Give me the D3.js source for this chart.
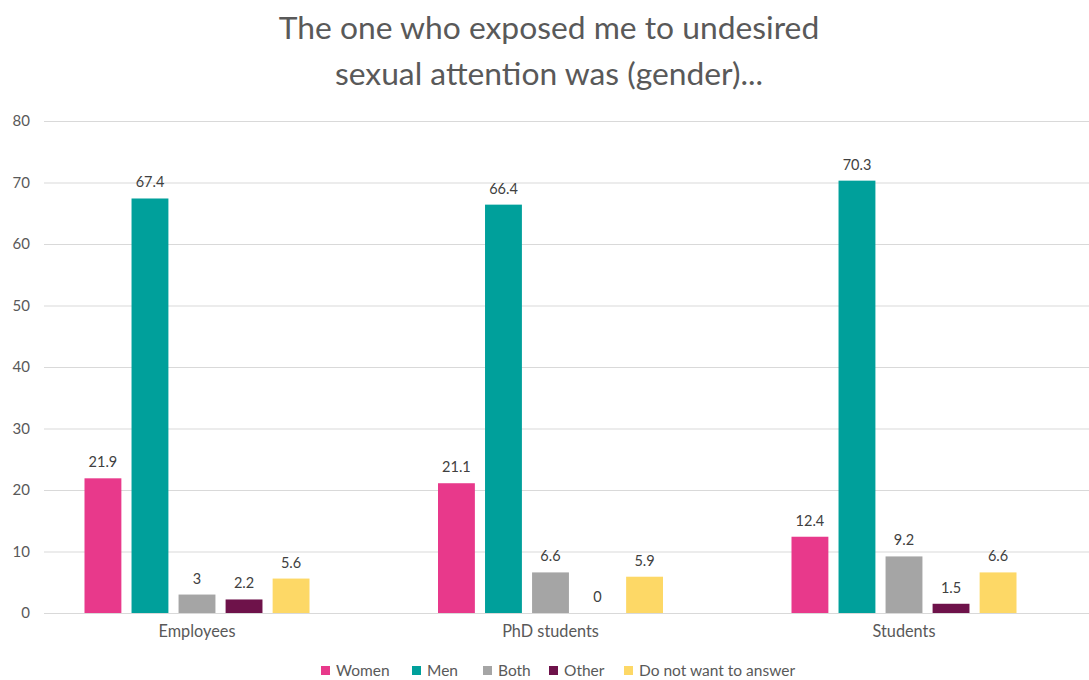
<!DOCTYPE html>
<html>
<head>
<meta charset="utf-8">
<script src="https://cdn.jsdelivr.net/npm/d3@7"></script>
<style>
  html, body { margin: 0; padding: 0; background: #fff; }
  svg { display: block; font-family: Lato, "Open Sans", sans-serif; }
</style>
</head>
<body>
<svg id="chart" width="1089" height="680"></svg>
<script>
const titleLines = ["The one who exposed me to undesired", "sexual attention was (gender)..."];
const categories = ["Employees", "PhD students", "Students"];
const seriesNames = ["Women", "Men", "Both", "Other", "Do not want to answer"];
const seriesColors = ["#E8398B", "#00A09B", "#A5A5A5", "#6E124A", "#FDD866"];
const women = [21.9, 21.1, 12.4];
const men = [67.4, 66.4, 70.3];
const both = [3, 6.6, 9.2];
const other = [2.2, 0, 1.5];
const noAnswer = [5.6, 5.9, 6.6];
const yTicks = [0, 10, 20, 30, 40, 50, 60, 70, 80];

const seriesValues = [women, men, both, other, noAnswer];

const svg = d3.select("#chart");

const y = d3.scaleLinear().domain([0, 80]).range([613, 121]);
const x0 = d3.scaleBand().domain(categories).range([20.25, 1080.75])
  .paddingInner(0.3635).paddingOuter(0.3635 / 2);
const x1 = d3.scaleBand().domain(seriesNames).range([0, x0.bandwidth()])
  .paddingInner(0.216).paddingOuter(0);
const color = d3.scaleOrdinal().domain(seriesNames).range(seriesColors);

// Title
svg.append("g").selectAll("text").data(titleLines).join("text")
  .attr("x", 549).attr("y", (d, i) => 39 + i * 46)
  .attr("text-anchor", "middle")
  .attr("font-size", 31.8)
  .attr("fill", "#595959")
  .text(d => d);

// Gridlines + y labels
const yAxis = d3.axisLeft(y).tickValues(yTicks).tickSize(-(1089 - 44)).tickPadding(14);
const gy = svg.append("g").attr("transform", "translate(44,0)").call(yAxis);
gy.select(".domain").remove();
gy.selectAll(".tick line").attr("stroke", "#D9D9D9").attr("stroke-width", 1);
gy.selectAll(".tick text").attr("fill", "#595959").attr("font-size", 15)
  .attr("font-family", "Lato, 'Open Sans', sans-serif");

// Bars
const groups = svg.append("g").selectAll("g").data(categories).join("g")
  .attr("transform", d => `translate(${x0(d)},0)`);

const barData = (c, ci) => seriesNames.map((s, si) => ({ s, v: seriesValues[si][ci] }));

groups.selectAll("rect").data((c, ci) => barData(c, ci)).join("rect")
  .attr("x", d => x1(d.s))
  .attr("y", d => y(d.v))
  .attr("width", x1.bandwidth())
  .attr("height", d => y(0) - y(d.v))
  .attr("fill", d => color(d.s));

groups.selectAll("text").data((c, ci) => barData(c, ci)).join("text")
  .attr("x", d => x1(d.s) + x1.bandwidth() / 2)
  .attr("y", d => y(d.v) - 11)
  .attr("text-anchor", "middle")
  .attr("font-size", 14.5)
  .attr("fill", "#404040")
  .text(d => d.v);

// Zero axis line
svg.append("line").attr("x1", 44).attr("x2", 1089).attr("y1", y(0) + 0.5).attr("y2", y(0) + 0.5)
  .attr("stroke", "#D9D9D9");

// x axis labels
const xAxis = d3.axisBottom(x0).tickSize(0).tickPadding(12);
const gx = svg.append("g").attr("transform", `translate(0,${y(0)})`).call(xAxis);
gx.select(".domain").remove();
gx.selectAll(".tick text").attr("fill", "#595959").attr("font-size", 16.3)
  .attr("font-family", "Lato, 'Open Sans', sans-serif");

// Legend
const legendX = [321, 412, 483, 549, 624];
const lg = svg.append("g").selectAll("g").data(seriesNames).join("g")
  .attr("transform", (d, i) => `translate(${legendX[i]},666)`);
lg.append("rect").attr("width", 9).attr("height", 9).attr("fill", d => color(d));
lg.append("text").attr("x", 15).attr("y", 10).attr("font-size", 15.5)
  .attr("fill", "#595959").text(d => d);
</script>
</body>
</html>
